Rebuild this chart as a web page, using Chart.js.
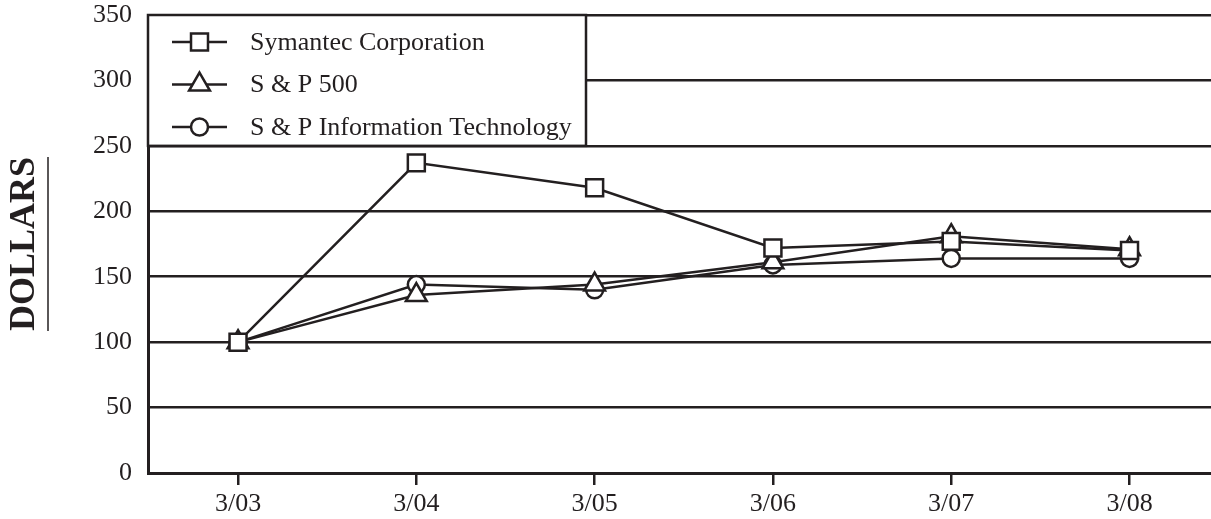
<!DOCTYPE html>
<html>
<head>
<meta charset="utf-8">
<script src="https://cdn.jsdelivr.net/npm/chart.js@4.4.1/dist/chart.umd.min.js"></script>
<style>
  html, body { margin: 0; padding: 0; background: #fff; overflow: hidden; }
</style>
</head>
<body>
<canvas id="perfChart" width="1211" height="519"></canvas>
<script>
const years = ['3/03', '3/04', '3/05', '3/06', '3/07', '3/08'];
const symantec = [100, 237, 218, 172, 177, 170];
const sp500 = [100, 136, 144, 161, 181, 171];
const spTech = [100, 144, 140, 159, 164, 164];
const seriesNames = ['Symantec Corporation', 'S & P 500', 'S & P Information Technology'];

const ink = '#231f20';
const serif = '"Liberation Serif", "Times New Roman", serif';

const toPoints = arr => arr.map((v, i) => ({ x: i, y: v }));

function series(label, values, style, radius) {
    return {
        label: label,
        data: toPoints(values),
        borderColor: ink,
        borderWidth: 2.5,
        pointStyle: style,
        pointRadius: radius,
        pointHoverRadius: radius,
        pointBorderWidth: 2.5,
        pointBorderColor: ink,
        pointBackgroundColor: '#fff',
        tension: 0,
        fill: false
    };
}

// legend drawn as a white box in the top-left corner of the plot
const legendBox = {
    id: 'legendBox',
    beforeDatasetsDraw(chart) {
        const { ctx, chartArea, scales } = chart;
        const left = chartArea.left, top = chartArea.top;
        const right = 586, bottom = scales.y.getPixelForValue(250);
        ctx.save();
        ctx.fillStyle = '#fff';
        ctx.fillRect(left, top, right - left, bottom - top);
        ctx.strokeStyle = ink;
        ctx.lineWidth = 2.5;
        ctx.strokeRect(left, top, right - left, bottom - top);

        chart.data.datasets.forEach((ds, i) => {
            const y = top + 27 + i * 42.5;
            ctx.strokeStyle = ink;
            ctx.lineWidth = 2.5;
            ctx.beginPath();
            ctx.moveTo(172, y);
            ctx.lineTo(227, y);
            ctx.stroke();
            ctx.fillStyle = '#fff';
            Chart.helpers.drawPoint(ctx, {
                pointStyle: ds.pointStyle,
                radius: ds.pointRadius,
                borderWidth: 2.5,
                rotation: 0
            }, 199.5, y);
            ctx.fillStyle = ink;
            ctx.font = '26px ' + serif;
            ctx.textBaseline = 'middle';
            ctx.textAlign = 'left';
            ctx.fillText(ds.label, 250, y + 1);
        });
        ctx.restore();
    },
    afterDraw(chart) {
        // underline for the DOLLARS title
        const { ctx, scales } = chart;
        const s = scales.y;
        ctx.save();
        ctx.font = 'bold 36px ' + serif;
        const w = ctx.measureText(s.options.title.text).width;
        const mid = (s.top + s.bottom) / 2;
        ctx.strokeStyle = ink;
        ctx.lineWidth = 1.5;
        ctx.beginPath();
        ctx.moveTo(48, mid - w / 2);
        ctx.lineTo(48, mid + w / 2);
        ctx.stroke();
        ctx.restore();
    }
};

const ctx = document.getElementById('perfChart').getContext('2d');
const perfChart = new Chart(ctx, {
    type: 'line',
    data: {
        datasets: [
            series(seriesNames[0], symantec, 'rect', 12),
            series(seriesNames[1], sp500, 'triangle', 12),
            series(seriesNames[2], spTech, 'circle', 8.5)
        ]
    },
    options: {
        responsive: false,
        animation: false,
        layout: { autoPadding: false, padding: 0 },
        plugins: {
            legend: { display: false },
            tooltip: { enabled: false }
        },
        scales: {
            x: {
                type: 'linear',
                min: -0.505,
                max: 5.457,
                afterBuildTicks: scale => {
                    scale.ticks = years.map((_, i) => ({ value: i }));
                },
                afterFit: scale => {
                    scale.height = 46;
                    scale.paddingLeft = 0;
                    scale.paddingRight = 0;
                },
                grid: {
                    drawOnChartArea: false,
                    drawTicks: true,
                    tickLength: 12,
                    color: ink,
                    lineWidth: 2.5
                },
                border: { color: ink, width: 3 },
                ticks: {
                    autoSkip: false,
                    maxRotation: 0,
                    padding: 4,
                    color: ink,
                    font: { family: serif, size: 26 },
                    callback: v => years[v] !== undefined ? years[v] : ''
                }
            },
            y: {
                min: 0,
                max: 350,
                afterFit: scale => {
                    scale.width = 148;
                    scale.paddingTop = 15;
                    scale.paddingBottom = 0;
                },
                grid: {
                    color: ink,
                    lineWidth: 2.5,
                    drawTicks: false
                },
                border: { color: ink, width: 3 },
                ticks: {
                    stepSize: 50,
                    padding: 16,
                    color: ink,
                    font: { family: serif, size: 26, lineHeight: 1.1 }
                },
                title: {
                    display: true,
                    text: 'DOLLARS',
                    color: ink,
                    font: { family: serif, size: 36, weight: 'bold' },
                    padding: { top: 3, bottom: 0 }
                }
            }
        }
    },
    plugins: [legendBox]
});
</script>
</body>
</html>
